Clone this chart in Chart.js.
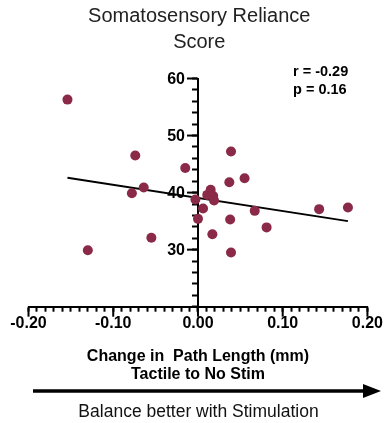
<!DOCTYPE html>
<html>
<head>
<meta charset="utf-8">
<script src="https://cdn.jsdelivr.net/npm/chart.js@4.4.0/dist/chart.umd.min.js"></script>
<style>
    html, body { margin: 0; padding: 0; background: #fff; }
    #wrap { width: 385px; height: 423px; }
</style>
</head>
<body>
<div id="wrap"><canvas id="scatter" width="385" height="423"></canvas></div>
<script>
// change in path length (x) vs somatosensory reliance score (y)
const pathChange = [
    -0.154, -0.130, -0.078, -0.074, -0.064, -0.055, -0.015, -0.003,
    0.000, 0.006, 0.011, 0.015, 0.017, 0.018, 0.019, 0.037,
    0.038, 0.039, 0.039, 0.055, 0.067, 0.081, 0.143, 0.177
];
const relianceScore = [
    56.3, 29.9, 39.9, 46.5, 40.9, 32.1, 44.3, 38.8,
    35.4, 37.2, 39.6, 40.5, 32.7, 39.4, 38.6, 41.8,
    35.3, 29.5, 47.2, 42.5, 36.8, 33.9, 37.1, 37.4
];
// fitted line endpoints
const fitX = [-0.154, 0.177];
const fitY = [42.6, 35.0];
const statLines = ['r = -0.29', 'p = 0.16'];
const titleLines = ['Somatosensory Reliance', 'Score'];
const xTitleLines = ['Change in  Path Length (mm)', 'Tactile to No Stim'];
const arrowCaption = 'Balance better with Stimulation';

const DOT = '#8b2a48';
const FONT = "'Liberation Sans', Arial, sans-serif";

// longer ticks on labelled values, plus the y labels
// (chart.js puts labels of a value-positioned axis right on the line)
const majorTicks = {
    id: 'majorTicks',
    afterDraw(chart) {
        const { ctx } = chart;
        const xs = chart.scales.x;
        const ys = chart.scales.y;
        const x0 = xs.getPixelForValue(0);
        const yBase = ys.getPixelForValue(20);
        ctx.save();
        ctx.strokeStyle = '#000';
        ctx.fillStyle = '#000';
        ctx.lineWidth = 2;
        xs.ticks.forEach(t => {
            if (Math.round(Math.abs(t.value) * 100) % 10 !== 0) return;
            const px = xs.getPixelForValue(t.value);
            ctx.beginPath();
            ctx.moveTo(px, yBase);
            ctx.lineTo(px, yBase + 10);
            ctx.stroke();
        });
        ctx.font = 'bold 16px ' + FONT;
        ctx.textAlign = 'right';
        ctx.textBaseline = 'middle';
        ys.ticks.forEach(t => {
            if (!t.label) return;
            const py = ys.getPixelForValue(t.value);
            ctx.beginPath();
            ctx.moveTo(x0, py);
            ctx.lineTo(x0 - 11, py);
            ctx.stroke();
            ctx.fillText(t.label, x0 - 13, py + 1);
        });
        ctx.restore();
    }
};

// r/p annotation, arrow and caption under the axis
const extras = {
    id: 'extras',
    afterDraw(chart) {
        const { ctx } = chart;
        ctx.save();
        ctx.fillStyle = '#000';
        ctx.font = 'bold 14.5px ' + FONT;
        ctx.textAlign = 'left';
        ctx.textBaseline = 'middle';
        statLines.forEach((s, i) => ctx.fillText(s, 293, 72 + i * 18));

        ctx.strokeStyle = '#000';
        ctx.lineWidth = 3.5;
        ctx.beginPath();
        ctx.moveTo(33, 391);
        ctx.lineTo(365, 391);
        ctx.stroke();
        ctx.beginPath();
        ctx.moveTo(363, 384);
        ctx.lineTo(381, 391);
        ctx.lineTo(363, 398);
        ctx.closePath();
        ctx.fill();

        ctx.font = '17.5px ' + FONT;
        ctx.textAlign = 'center';
        ctx.textBaseline = 'alphabetic';
        ctx.fillStyle = '#111';
        ctx.fillText(arrowCaption, 198.5, 417);
        ctx.restore();
    }
};

const points = pathChange.map((x, i) => ({ x, y: relianceScore[i] }));
const fitLine = fitX.map((x, i) => ({ x, y: fitY[i] }));

new Chart(document.getElementById('scatter'), {
    type: 'scatter',
    data: {
        datasets: [
            {
                data: points,
                backgroundColor: DOT,
                borderWidth: 0,
                pointRadius: 5,
                order: 0
            },
            {
                type: 'line',
                data: fitLine,
                borderColor: '#000',
                borderWidth: 2,
                pointRadius: 0,
                fill: false,
                order: 1
            }
        ]
    },
    plugins: [majorTicks, extras],
    options: {
        responsive: false,
        animation: false,
        layout: { padding: { left: 28.5, right: 15, top: 0, bottom: 40 } },
        plugins: {
            legend: { display: false },
            tooltip: { enabled: false },
            title: {
                display: true,
                text: titleLines,
                color: '#222',
                font: { family: FONT, size: 20, weight: 'normal', lineHeight: 1.3 },
                padding: { top: 3.5, bottom: 23 }
            }
        },
        scales: {
            x: {
                type: 'linear',
                position: 'bottom',
                min: -0.2,
                max: 0.2,
                afterFit(scale) { scale.height = 76.3; },
                ticks: {
                    stepSize: 0.01,
                    autoSkip: false,
                    maxRotation: 0,
                    padding: 2,
                    color: '#000',
                    font: { family: FONT, size: 16, weight: 'bold' },
                    callback: v => Math.round(Math.abs(v) * 100) % 10 === 0 ? v.toFixed(2) : ''
                },
                grid: {
                    drawOnChartArea: false,
                    tickLength: 5,
                    tickWidth: 2,
                    color: '#000'
                },
                border: { display: true, color: '#000', width: 2 },
                title: {
                    display: true,
                    text: xTitleLines,
                    color: '#000',
                    font: { family: FONT, size: 16, weight: 'bold', lineHeight: 1.125 },
                    padding: { top: 0, bottom: -1 }
                }
            },
            y: {
                type: 'linear',
                position: { x: 0 },
                min: 20,
                max: 60,
                ticks: {
                    stepSize: 2,
                    autoSkip: false,
                    padding: 2,
                    color: 'rgba(0,0,0,0)',
                    font: { family: FONT, size: 16, weight: 'bold' },
                    callback: v => (v % 10 === 0 && v !== 20) ? String(v) : ''
                },
                grid: {
                    drawOnChartArea: false,
                    tickLength: 5,
                    tickWidth: 2,
                    color: '#000'
                },
                border: { display: true, color: '#000', width: 2 }
            }
        }
    }
});
</script>
</body>
</html>
